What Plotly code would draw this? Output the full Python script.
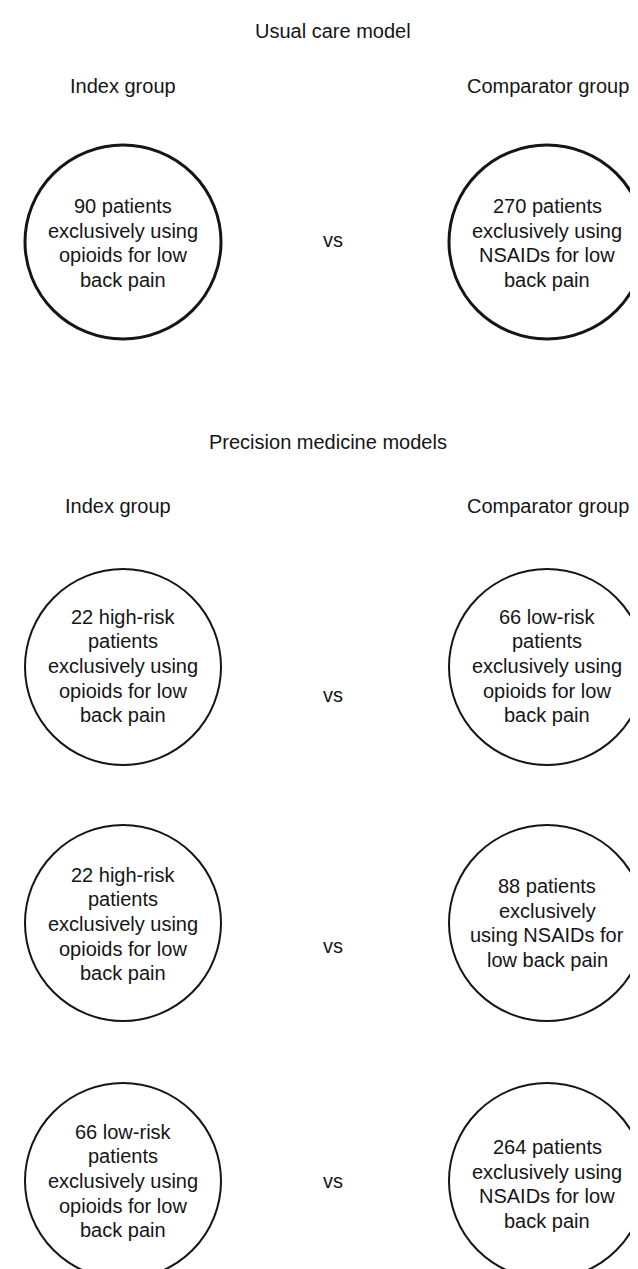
import plotly.graph_objects as go

# ---- data ----
section_titles = ["Usual care model", "Precision medicine models"]
group_labels = ["Index group", "Comparator group"]
index_texts = [
    ["90 patients", "exclusively using", "opioids for low", "back pain"],
    ["22 high-risk", "patients", "exclusively using", "opioids for low", "back pain"],
    ["22 high-risk", "patients", "exclusively using", "opioids for low", "back pain"],
    ["66 low-risk", "patients", "exclusively using", "opioids for low", "back pain"],
]
comparator_texts = [
    ["270 patients", "exclusively using", "NSAIDs for low", "back pain"],
    ["66 low-risk", "patients", "exclusively using", "opioids for low", "back pain"],
    ["88 patients", "exclusively", "using NSAIDs for", "low back pain"],
    ["264 patients", "exclusively using", "NSAIDs for low", "back pain"],
]
vs_label = "vs"

# ---- layout (positions in pixel-like data units) ----
W, H = 638, 1269
col_x = [115, 539]
row_y = [234, 659, 915, 1173]
radius_x = [98, 98, 98, 98]
radius_y = [97, 98, 98, 98]
line_w = [3, 2, 2, 2]
text_y_index = [235, 658, 916, 1173]
text_y_comp = [235, 658, 915, 1176]
vs_y = [232, 687, 938, 1173]
title_x = [325, 320]
title_y = [23, 434]
group_y = [78, 498]
group_x = [[115, 540], [110, 540]]
LINE = 24.6

FONT = "Liberation Sans, Arial, Helvetica, sans-serif"
FS = 20
ink = "#151515"

fig = go.Figure()
# invisible trace to establish axes
fig.add_trace(go.Scatter(x=[0, W], y=[0, H], mode="markers",
                         marker=dict(opacity=0), hoverinfo="skip", showlegend=False))

shapes = []
annotations = []


def label(x, y, text):
    annotations.append(dict(x=x, y=y, text=text, showarrow=False,
                            xanchor="center", yanchor="middle",
                            font=dict(family=FONT, size=FS, color=ink)))


for i, t in enumerate(section_titles):
    label(title_x[i], title_y[i], t)
    for j, g in enumerate(group_labels):
        label(group_x[i][j], group_y[i], g)

for r in range(len(index_texts)):
    for c, texts, ty in ((0, index_texts, text_y_index), (1, comparator_texts, text_y_comp)):
        cx, cy = col_x[c], row_y[r]
        shapes.append(dict(type="circle", xref="x", yref="y",
                           x0=cx - radius_x[r], x1=cx + radius_x[r],
                           y0=cy - radius_y[r], y1=cy + radius_y[r],
                           line=dict(color=ink, width=line_w[r]),
                           fillcolor="rgba(0,0,0,0)"))
        lines = texts[r]
        n = len(lines)
        for k, ln in enumerate(lines):
            label(cx, ty[r] + (k - (n - 1) / 2) * LINE, ln)
    label(325, vs_y[r], vs_label)

fig.update_layout(
    width=W, height=H,
    margin=dict(l=0, r=0, t=0, b=0),
    paper_bgcolor="white", plot_bgcolor="white",
    xaxis=dict(range=[0, W], visible=False, fixedrange=True),
    yaxis=dict(range=[H, 0], visible=False, fixedrange=True),
    shapes=shapes, annotations=annotations, showlegend=False,
)

fig.write_html("out.html", config={"displayModeBar": False})
